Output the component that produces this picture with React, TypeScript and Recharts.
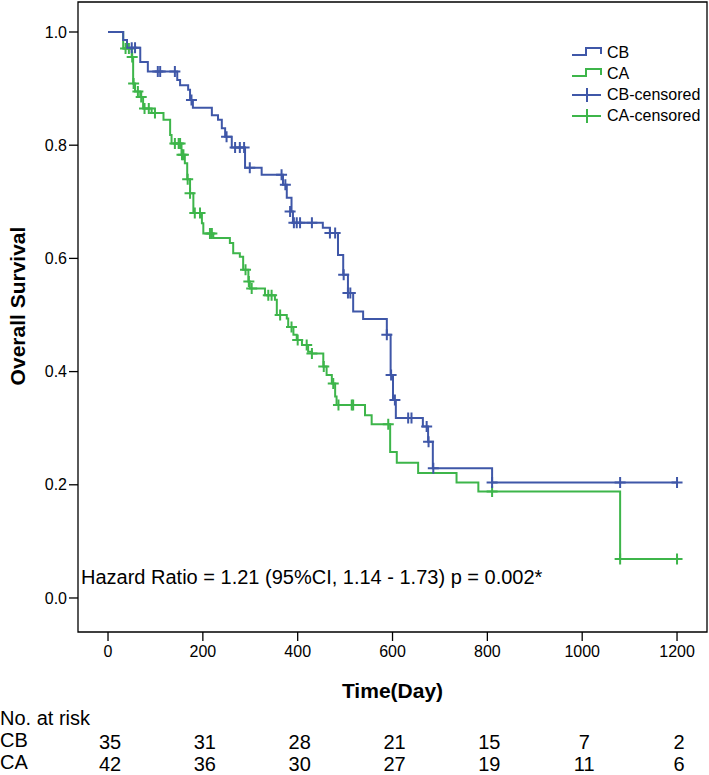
import React from 'react';
import { ComposedChart, Line, Scatter, XAxis, YAxis, ReferenceArea, Legend } from 'recharts';

// Kaplan-Meier steps
const cbTime = [0, 32, 40, 68, 84, 146, 152, 169, 173, 179, 219, 232, 240, 247, 261, 289, 324, 369, 377, 387, 390, 453, 468, 485, 496, 506, 517, 538, 588, 596, 601, 607, 664, 675, 685, 810, 1200];
const cbSurv = [1.0, 0.986, 0.972, 0.947, 0.93, 0.915, 0.906, 0.898, 0.88, 0.866, 0.853, 0.845, 0.83, 0.815, 0.796, 0.76, 0.748, 0.73, 0.707, 0.683, 0.663, 0.654, 0.645, 0.606, 0.571, 0.539, 0.506, 0.493, 0.465, 0.394, 0.35, 0.318, 0.303, 0.276, 0.229, 0.204, 0.204];

const caTime = [0, 32, 50, 53, 57, 68, 74, 92, 117, 131, 134, 155, 162, 167, 173, 180, 198, 201, 222, 257, 264, 278, 285, 296, 299, 331, 352, 356, 377, 380, 391, 398, 409, 422, 430, 454, 461, 472, 479, 482, 542, 556, 595, 609, 654, 735, 781, 1080, 1200];
const caSurv = [1.0, 0.971, 0.956, 0.909, 0.895, 0.885, 0.865, 0.857, 0.845, 0.818, 0.803, 0.783, 0.768, 0.74, 0.715, 0.68, 0.662, 0.644, 0.636, 0.627, 0.609, 0.603, 0.58, 0.559, 0.547, 0.535, 0.527, 0.5, 0.494, 0.479, 0.465, 0.456, 0.447, 0.435, 0.432, 0.409, 0.394, 0.379, 0.356, 0.341, 0.323, 0.307, 0.258, 0.239, 0.221, 0.204, 0.188, 0.069, 0.069];

// censored observations
const cbCensTime = [50, 57, 105, 110, 141, 176, 250, 268, 278, 287, 299, 366, 374, 384, 392, 398, 405, 430, 468, 479, 497, 506, 511, 588, 597, 605, 633, 640, 672, 676, 686, 810, 1080, 1200];
const cbCensSurv = [0.972, 0.972, 0.93, 0.93, 0.93, 0.88, 0.815, 0.796, 0.796, 0.796, 0.76, 0.748, 0.73, 0.683, 0.663, 0.663, 0.663, 0.663, 0.645, 0.645, 0.571, 0.539, 0.539, 0.465, 0.394, 0.35, 0.318, 0.318, 0.303, 0.276, 0.229, 0.204, 0.204, 0.204];

const caCensTime = [37, 44, 51, 54, 63, 70, 77, 86, 99, 141, 149, 152, 156, 159, 168, 173, 183, 194, 215, 219, 290, 297, 303, 338, 345, 363, 387, 400, 419, 430, 455, 475, 486, 514, 517, 591, 810, 1080, 1200];
const caCensSurv = [0.971, 0.971, 0.956, 0.909, 0.895, 0.885, 0.865, 0.865, 0.857, 0.803, 0.803, 0.803, 0.783, 0.783, 0.74, 0.715, 0.68, 0.68, 0.644, 0.644, 0.58, 0.559, 0.547, 0.535, 0.535, 0.5, 0.479, 0.456, 0.447, 0.432, 0.409, 0.379, 0.341, 0.341, 0.341, 0.307, 0.188, 0.069, 0.069];

const xTicks = [0, 200, 400, 600, 800, 1000, 1200];
const yTicks = [0, 0.2, 0.4, 0.6, 0.8, 1.0];
const cbAtRisk = [35, 31, 28, 21, 15, 7, 2];
const caAtRisk = [42, 36, 30, 27, 19, 11, 6];

const BLUE = '#3f57a8';
const GREEN = '#3db54a';
const FONT = '"Liberation Sans", Arial, sans-serif';
const X_MIN = -63.3;
const X_MAX = 1263.2;
const Y_MIN = -0.0601;
const Y_MAX = 1.053;

const toPoints = (t: number[], s: number[]) => t.map((d, i) => ({ day: d, surv: s[i] }));
const cbCurve = toPoints(cbTime, cbSurv);
const caCurve = toPoints(caTime, caSurv);
const cbCens = toPoints(cbCensTime, cbCensSurv);
const caCens = toPoints(caCensTime, caCensSurv);

const makeCross = (color: string) => (props: any) => {
    const { cx, cy } = props;
    return <path d={`M${cx - 5.5},${cy}h11M${cx},${cy - 5.5}v11`} stroke={color} strokeWidth={2} fill="none" />;
};

const legendItems = [
    { name: 'CB', color: BLUE, kind: 'step' },
    { name: 'CA', color: GREEN, kind: 'step' },
    { name: 'CB-censored', color: BLUE, kind: 'cross' },
    { name: 'CA-censored', color: GREEN, kind: 'cross' },
];

const LegendBox = () => (
    <div style={{ fontFamily: FONT, fontSize: 16, color: '#000' }}>
        {legendItems.map((it) => (
            <div key={it.name} style={{ display: 'flex', alignItems: 'center', height: 21 }}>
                <svg width={34} height={21} style={{ display: 'block' }}>
                    {it.kind === 'step' ? (
                        <path d="M1,13H15V6H30V12" stroke={it.color} strokeWidth={2} fill="none" />
                    ) : (
                        <path d="M1,11H30M16,4V18" stroke={it.color} strokeWidth={2} fill="none" />
                    )}
                </svg>
                <span style={{ marginLeft: 2 }}>{it.name}</span>
            </div>
        ))}
    </div>
);

const YTitle = () => (
    <text x={17} y={306} transform="rotate(-90, 17, 306)" textAnchor="middle" dominantBaseline="central"
        fontFamily={FONT} fontSize={21} fontWeight="bold" fill="#000">Overall Survival</text>
);

const XTitle = (props: any) => {
    const vb = props.viewBox || { x: 78, width: 629 };
    return (
        <text x={vb.x + vb.width / 2} y={690} textAnchor="middle" dominantBaseline="central"
            fontFamily={FONT} fontSize={21} fontWeight="bold" fill="#000">Time(Day)</text>
    );
};

// x tick label plus the number-at-risk rows under it
const TimeTick = (props: any) => {
    const { x, y, payload } = props;
    const i = xTicks.indexOf(payload.value);
    return (
        <g fontFamily={FONT} fill="#000">
            <text x={x} y={y} dy="0.71em" textAnchor="middle" fontSize={16}>{payload.value}</text>
            <text x={x + 2} y={742} textAnchor="middle" dominantBaseline="central" fontSize={20}>{cbAtRisk[i]}</text>
            <text x={x + 2} y={764} textAnchor="middle" dominantBaseline="central" fontSize={20}>{caAtRisk[i]}</text>
        </g>
    );
};

const tickStyle = { fill: '#000', fontSize: 16, fontFamily: FONT };

const App: React.FC = () => {
    return (
        <div style={{ position: 'absolute', left: 0, top: 0, width: 709, height: 775, background: '#fff' }}>
            <ComposedChart width={709} height={775} margin={{ top: 2, right: 2, left: 18, bottom: 0 }}>
                <XAxis dataKey="day" type="number" domain={[X_MIN, X_MAX]} allowDataOverflow ticks={xTicks}
                    tick={<TimeTick />} tickLine={{ stroke: '#000', strokeWidth: 1.3 }} axisLine={false}
                    tickSize={9} tickMargin={5} height={143} label={<XTitle />} />
                <YAxis dataKey="surv" type="number" domain={[Y_MIN, Y_MAX]} allowDataOverflow ticks={yTicks}
                    tickFormatter={(v: number) => v.toFixed(1)} tick={tickStyle}
                    tickLine={{ stroke: '#000', strokeWidth: 1.3 }} axisLine={false} tickSize={9} tickMargin={2}
                    width={60} label={<YTitle />} />
                <ReferenceArea x1={X_MIN} x2={X_MAX} y1={Y_MIN} y2={Y_MAX} fill="none" stroke="#000"
                    strokeWidth={1.3} ifOverflow="visible" />
                <Line data={caCurve} dataKey="surv" type="stepAfter" stroke={GREEN} strokeWidth={2} dot={false}
                    activeDot={false} isAnimationActive={false} name="CA" />
                <Line data={cbCurve} dataKey="surv" type="stepAfter" stroke={BLUE} strokeWidth={2} dot={false}
                    activeDot={false} isAnimationActive={false} name="CB" />
                <Scatter data={caCens} dataKey="surv" shape={makeCross(GREEN)} isAnimationActive={false} name="CA-censored" />
                <Scatter data={cbCens} dataKey="surv" shape={makeCross(BLUE)} isAnimationActive={false} name="CB-censored" />
                <Legend layout="vertical" align="center" verticalAlign="middle" content={<LegendBox />}
                    wrapperStyle={{ left: 571, top: 42, width: 140, height: 90 }} />
            </ComposedChart>
            <div style={{ position: 'absolute', left: 81, top: 565, fontFamily: FONT, fontSize: 20, lineHeight: '24px', whiteSpace: 'nowrap' }}>
                Hazard Ratio = 1.21 (95%CI, 1.14 - 1.73) p = 0.002*
            </div>
            <div style={{ position: 'absolute', left: 0, top: 707, fontFamily: FONT, fontSize: 20, lineHeight: '22px', whiteSpace: 'nowrap' }}>
                <div>No. at risk</div>
                <div>CB</div>
                <div>CA</div>
            </div>
        </div>
    );
};

export default App;
